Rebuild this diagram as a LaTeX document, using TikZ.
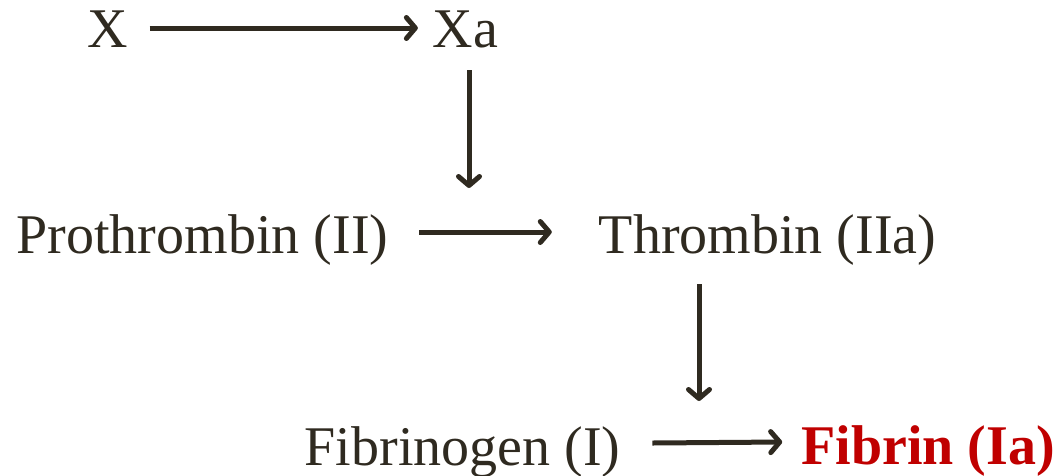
\documentclass[tikz,border=0pt]{standalone}
\usepackage{fontspec}
\setmainfont{Liberation Serif}
\usetikzlibrary{arrows.meta}
\definecolor{ink}{HTML}{2F2A20}
\definecolor{fibred}{HTML}{C00000}
\begin{document}
\begin{tikzpicture}[x=1pt,y=1pt,
  lbl/.style={inner sep=0pt,outer sep=0pt,anchor=base,text=ink,font=\fontsize{56}{60}\selectfont},
  hot/.style={lbl,text=fibred,font=\fontsize{56}{60}\selectfont\bfseries},
  arr/.style={draw=ink,line width=5pt,-{Straight Barb[length=9pt,width=21pt,round]}}]
\useasboundingbox (0,0) rectangle (1059,-475);
\node[lbl] (X) at (107.5,-47) {X};
\node[lbl] (Xa) at (465.5,-47) {Xa};
\node[lbl] (pro) at (202.5,-253) {Prothrombin (II)};
\node[lbl] (thr) at (767.5,-253) {Thrombin (IIa)};
\node[lbl] (fbg) at (462.5,-465) {Fibrinogen (I)};
\node[hot] (fib) at (928,-464) {Fibrin (Ia)};
\coordinate (act1) at ([xshift=3.5pt,yshift=-141pt]Xa.base);
\coordinate (act2) at ([xshift=-68.5pt,yshift=-148pt]thr.base);
\draw[arr] ([xshift=22pt,yshift=19pt]X.base east) -- ([xshift=-15pt,yshift=19pt]Xa.base west);
\draw[arr] ([xshift=3.5pt,yshift=-23pt]Xa.base) -- (act1);
\draw[arr] ([xshift=31pt,yshift=21pt]pro.base east) -- ([xshift=-47pt,yshift=21pt]thr.base west);
\draw[arr] ([xshift=-68.5pt,yshift=-31pt]thr.base) -- (act2);
\draw[arr] ([xshift=32pt,yshift=22pt]fbg.base east) -- ([xshift=-19pt,yshift=22pt]fib.base west);
\end{tikzpicture}
\end{document}
